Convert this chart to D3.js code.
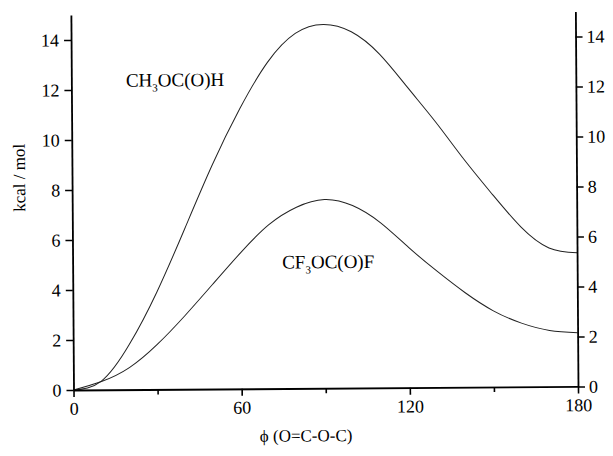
<!DOCTYPE html>
<html>
<head>
<meta charset="utf-8">
<script src="https://cdn.jsdelivr.net/npm/d3@7"></script>
<style>
  body { margin: 0; background: #fff; }
  svg { font-family: "Liberation Serif", "DejaVu Serif", serif; }
  .axis path { stroke: #000; stroke-width: 1.8; }
  .axis line { stroke: #000; stroke-width: 1.6; }
  .axis text { font-size: 18px; fill: #000; }
</style>
</head>
<body>
<div id="chart"></div>
<script>
// dihedral angle (deg) and relative energy (kcal/mol)
var angles = [0, 10, 20, 30, 40, 50, 60, 70, 80, 90, 100, 110, 120, 130, 140, 150, 160, 170, 180];
var ch3Values = [0, 0.35, 1.8, 3.9, 6.4, 8.95, 11.2, 13.05, 14.2, 14.55, 14.25, 13.35, 12.0, 10.6, 9.1, 7.7, 6.4, 5.55, 5.35];
var cf3Values = [0, 0.33, 0.88, 1.8, 2.95, 4.2, 5.45, 6.55, 7.25, 7.55, 7.3, 6.6, 5.6, 4.65, 3.78, 3.05, 2.55, 2.25, 2.15];
var xTicks = [0, 60, 120, 180];
var xMinorTicks = [30, 90, 150];
var yTicks = [0, 2, 4, 6, 8, 10, 12, 14];

var serif = "'Liberation Serif', 'DejaVu Serif', serif";

var margin = { top: 15, right: 35, bottom: 66, left: 73.5 },
  width = 613 - margin.left - margin.right,
  height = 456 - margin.top - margin.bottom;

var svg = d3.select("#chart")
  .append("svg")
  .attr("width", 613)
  .attr("height", 456);

// the scanned figure is tilted slightly
var g = svg.append("g")
  .attr("transform", "rotate(-0.4," + margin.left + "," + (margin.top + height) + ") translate(" + margin.left + "," + margin.top + ")");

var x = d3.scaleLinear().domain([0, 180]).range([0, width]);
var y = d3.scaleLinear().domain([0, 15]).range([height, 0]);

var line = d3.line()
  .x(function (d) { return x(d[0]); })
  .y(function (d) { return y(d[1]); })
  .curve(d3.curveNatural);

var series = [
  angles.map(function (a, i) { return [a, ch3Values[i]]; }),
  angles.map(function (a, i) { return [a, cf3Values[i]]; })
];

g.selectAll(".curve")
  .data(series)
  .enter()
  .append("path")
  .attr("class", "curve")
  .attr("d", line)
  .style("fill", "none")
  .style("stroke", "#222")
  .style("stroke-width", 1);

// axes
function styleAxis(sel) {
  sel.attr("font-family", serif).attr("font-size", 18);
  sel.selectAll("text").style("font-family", serif);
}

g.append("g")
  .attr("class", "axis")
  .call(d3.axisLeft(y).tickValues(yTicks).tickSize(7).tickSizeOuter(0).tickPadding(5))
  .call(styleAxis);

g.append("g")
  .attr("class", "axis")
  .attr("transform", "translate(" + width + ",0)")
  .call(d3.axisRight(y).tickValues(yTicks).tickSize(7).tickSizeOuter(0).tickPadding(4))
  .call(styleAxis);

g.append("g")
  .attr("class", "axis")
  .attr("transform", "translate(0," + height + ")")
  .call(d3.axisBottom(x).tickValues(xTicks).tickSize(7).tickSizeOuter(0).tickPadding(5))
  .call(styleAxis);

g.append("g")
  .attr("class", "axis")
  .attr("transform", "translate(0," + height + ")")
  .call(d3.axisBottom(x).tickValues(xMinorTicks).tickSize(5).tickSizeOuter(0).tickFormat(""))
  .select(".domain").remove();

// axis titles
g.append("text")
  .attr("transform", "translate(" + (-47) + "," + (height / 2 - 25) + ") rotate(-90)")
  .style("text-anchor", "middle")
  .style("font-size", "17px")
  .text("kcal / mol");

g.append("text")
  .attr("x", width / 2 - 20)
  .attr("y", height + 53)
  .style("text-anchor", "middle")
  .style("font-size", "17px")
  .text("\u03D5 (O=C-O-C)");

// curve labels
var lab1 = g.append("text")
  .attr("x", 54.5)
  .attr("y", 72)
  .style("font-size", "19px");
lab1.append("tspan").text("CH");
lab1.append("tspan").attr("dy", 5).style("font-size", "11px").text("3");
lab1.append("tspan").attr("dy", -5).text("OC(O)H");

var lab2 = g.append("text")
  .attr("x", 209.5)
  .attr("y", 255)
  .style("font-size", "19px");
lab2.append("tspan").text("CF");
lab2.append("tspan").attr("dy", 5).style("font-size", "11px").text("3");
lab2.append("tspan").attr("dy", -5).text("OC(O)F");
</script>
</body>
</html>
